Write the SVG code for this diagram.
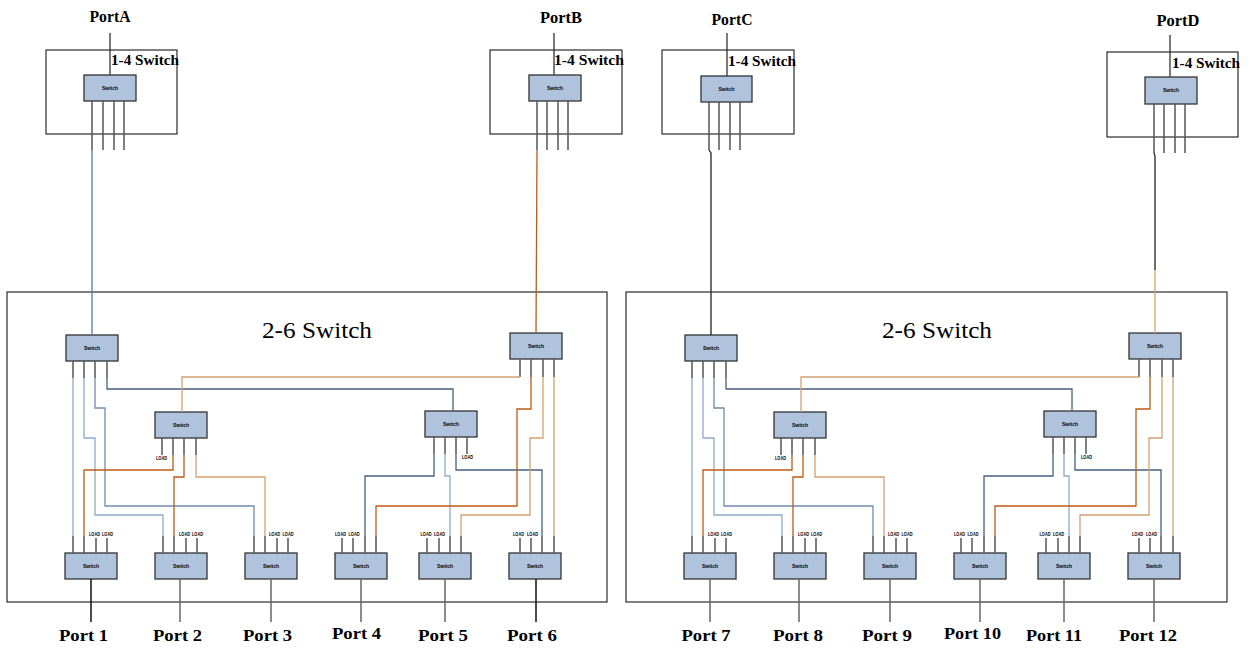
<svg xmlns="http://www.w3.org/2000/svg" width="1250" height="651" viewBox="0 0 1250 651">
<style>
.bg{fill:#fff}
.box{fill:none;stroke:#000;stroke-width:1}
.sw{fill:#b0c3dc;stroke:#333;stroke-width:1.3}
.st{font-family:"Liberation Sans",Arial,sans-serif;font-size:5px;font-weight:bold;text-anchor:middle;fill:#000}
.leg{stroke:#555;stroke-width:1.5;fill:none}
.ld{font-family:"Liberation Sans",Arial,sans-serif;font-size:5px;font-weight:bold;text-anchor:middle;fill:#000}
.stem{stroke:#666;stroke-width:1.5;fill:none}
.lbl{font-family:"Liberation Serif","Times New Roman",serif;font-weight:bold;font-size:17px;text-anchor:middle;fill:#000}
.sub{font-family:"Liberation Serif","Times New Roman",serif;font-weight:bold;font-size:14px;fill:#000}
.ttl{font-family:"Liberation Serif","Times New Roman",serif;font-size:23px;text-anchor:middle;fill:#000}
.c{fill:none;stroke-width:1.3}
.lb{stroke:#8eaacb}
.mb{stroke:#6f8db0}
.db{stroke:#44607f}
.lo{stroke:#d4a070}
.do{stroke:#c05a14}
.k{stroke:#222}
</style>
<rect class="bg" x="0" y="0" width="1250" height="651"/>

<!-- 1-4 switches -->
<g id="sw14-A">
<rect class="box" x="46" y="50" width="131" height="84"/>
<line x1="110" y1="33" x2="110" y2="75" stroke="#222" stroke-width="1.2"/>
<rect class="sw" x="84" y="75" width="52" height="26"/>
<text class="st" x="110" y="90" textLength="16" lengthAdjust="spacingAndGlyphs">Switch</text>
<path class="leg" d="M92,101V150M103,101V150M114,101V150M124,101V150"/>
<text class="sub" x="111" y="65" textLength="68" lengthAdjust="spacingAndGlyphs">1-4 Switch</text>
<text class="lbl" x="110" y="22" textLength="41" lengthAdjust="spacingAndGlyphs">PortA</text>
</g>
<g id="sw14-B">
<rect class="box" x="490" y="50" width="132" height="84"/>
<line x1="554" y1="33" x2="554" y2="75" stroke="#222" stroke-width="1.2"/>
<rect class="sw" x="529" y="75" width="52" height="26"/>
<text class="st" x="555" y="90" textLength="16" lengthAdjust="spacingAndGlyphs">Switch</text>
<path class="leg" d="M537,101V150M547,101V150M558,101V150M568,101V150"/>
<text class="sub" x="554" y="65" textLength="70" lengthAdjust="spacingAndGlyphs">1-4 Switch</text>
<text class="lbl" x="561" y="23" textLength="42" lengthAdjust="spacingAndGlyphs">PortB</text>
</g>
<g id="sw14-C">
<rect class="box" x="662" y="50" width="132" height="84"/>
<line x1="727" y1="33" x2="727" y2="76" stroke="#222" stroke-width="1.2"/>
<rect class="sw" x="701" y="76" width="51" height="26"/>
<text class="st" x="726.5" y="91" textLength="16" lengthAdjust="spacingAndGlyphs">Switch</text>
<path class="leg" d="M709,102V150M719,102V150M730,102V150M740,102V150"/>
<text class="sub" x="728" y="65.5" textLength="68" lengthAdjust="spacingAndGlyphs">1-4 Switch</text>
<text class="lbl" x="732" y="24.5" textLength="41" lengthAdjust="spacingAndGlyphs">PortC</text>
</g>
<g id="sw14-D">
<rect class="box" x="1107" y="52" width="131" height="85"/>
<line x1="1170" y1="35" x2="1170" y2="77" stroke="#222" stroke-width="1.2"/>
<rect class="sw" x="1145" y="77" width="52" height="27"/>
<text class="st" x="1171" y="92" textLength="16" lengthAdjust="spacingAndGlyphs">Switch</text>
<path class="leg" d="M1154,104V153M1164,104V153M1175,104V153M1185,104V153"/>
<text class="sub" x="1172" y="68" textLength="68" lengthAdjust="spacingAndGlyphs">1-4 Switch</text>
<text class="lbl" x="1178" y="26" textLength="43" lengthAdjust="spacingAndGlyphs">PortD</text>
</g>

<!-- Left 2-6 switch -->
<g id="sw26-left">
<rect class="box" x="7" y="292" width="600" height="310"/>
<text class="ttl" x="317" y="338" textLength="110" lengthAdjust="spacingAndGlyphs">2-6 Switch</text>
</g>
<g id="L-top1"><rect class="sw" x="66" y="335" width="52" height="26"/><text class="st" x="92" y="350" textLength="16" lengthAdjust="spacingAndGlyphs">Switch</text><path class="leg" d="M73,361V378M84,361V378M95,361V378M107,361V378"/></g>
<g id="L-top2"><rect class="sw" x="510" y="333" width="52" height="26"/><text class="st" x="536" y="348" textLength="16" lengthAdjust="spacingAndGlyphs">Switch</text><path class="leg" d="M520,359V377M531,359V377M543,359V377M554,359V377"/></g>
<g id="L-mid1"><rect class="sw" x="155" y="412" width="52" height="26"/><text class="st" x="181" y="427" textLength="16" lengthAdjust="spacingAndGlyphs">Switch</text><path class="leg" d="M162,438V455M173,438V455M184,438V455M196,438V455"/><text class="ld" x="161.5" y="460" textLength="11" lengthAdjust="spacingAndGlyphs">LOAD</text></g>
<g id="L-mid2"><rect class="sw" x="425" y="411" width="52" height="26"/><text class="st" x="451" y="426" textLength="16" lengthAdjust="spacingAndGlyphs">Switch</text><path class="leg" d="M434,437V454M445,437V454M456,437V454M467,437V454"/><text class="ld" x="467.5" y="459" textLength="11" lengthAdjust="spacingAndGlyphs">LOAD</text></g>
<g id="L-port1"><rect class="sw" x="65" y="553" width="52" height="26"/><text class="st" x="91" y="568" textLength="16" lengthAdjust="spacingAndGlyphs">Switch</text><path class="leg" d="M73,536V553M84,536V553M96,538V553M107,538V553"/><text class="ld" x="94.5" y="536" textLength="11" lengthAdjust="spacingAndGlyphs">LOAD</text><text class="ld" x="107.5" y="536" textLength="11" lengthAdjust="spacingAndGlyphs">LOAD</text><path class="stem" d="M91,579V622" style="stroke:#111"/><text class="lbl" x="83.5" y="641" textLength="49" lengthAdjust="spacingAndGlyphs">Port 1</text></g>
<g id="L-port2"><rect class="sw" x="155" y="553" width="52" height="26"/><text class="st" x="181" y="568" textLength="16" lengthAdjust="spacingAndGlyphs">Switch</text><path class="leg" d="M163,536V553M174,536V553M186,538V553M197,538V553"/><text class="ld" x="184.5" y="536" textLength="11" lengthAdjust="spacingAndGlyphs">LOAD</text><text class="ld" x="197.5" y="536" textLength="11" lengthAdjust="spacingAndGlyphs">LOAD</text><path class="stem" d="M180,579V622"/><text class="lbl" x="177.5" y="641" textLength="49" lengthAdjust="spacingAndGlyphs">Port 2</text></g>
<g id="L-port3"><rect class="sw" x="245" y="553" width="52" height="26"/><text class="st" x="271" y="568" textLength="16" lengthAdjust="spacingAndGlyphs">Switch</text><path class="leg" d="M254,536V553M265,536V553M277,538V553M288,538V553"/><text class="ld" x="274.5" y="536" textLength="11" lengthAdjust="spacingAndGlyphs">LOAD</text><text class="ld" x="288" y="536" textLength="11" lengthAdjust="spacingAndGlyphs">LOAD</text><path class="stem" d="M271,579V622"/><text class="lbl" x="267.5" y="641" textLength="49" lengthAdjust="spacingAndGlyphs">Port 3</text></g>
<g id="L-port4"><rect class="sw" x="335" y="553" width="52" height="26"/><text class="st" x="361" y="568" textLength="16" lengthAdjust="spacingAndGlyphs">Switch</text><path class="leg" d="M342,538V553M353,538V553M365,536V553M376,536V553"/><text class="ld" x="340.5" y="536" textLength="11" lengthAdjust="spacingAndGlyphs">LOAD</text><text class="ld" x="354" y="536" textLength="11" lengthAdjust="spacingAndGlyphs">LOAD</text><path class="stem" d="M361,579V622"/><text class="lbl" x="356.5" y="639" textLength="49" lengthAdjust="spacingAndGlyphs">Port 4</text></g>
<g id="L-port5"><rect class="sw" x="419" y="553" width="52" height="26"/><text class="st" x="445" y="568" textLength="16" lengthAdjust="spacingAndGlyphs">Switch</text><path class="leg" d="M427,538V553M439,538V553M450,536V553M461,536V553"/><text class="ld" x="426" y="536" textLength="11" lengthAdjust="spacingAndGlyphs">LOAD</text><text class="ld" x="439.5" y="536" textLength="11" lengthAdjust="spacingAndGlyphs">LOAD</text><path class="stem" d="M445,579V622"/><text class="lbl" x="443" y="641" textLength="50" lengthAdjust="spacingAndGlyphs">Port 5</text></g>
<g id="L-port6"><rect class="sw" x="509" y="553" width="52" height="26"/><text class="st" x="535" y="568" textLength="16" lengthAdjust="spacingAndGlyphs">Switch</text><path class="leg" d="M520,538V553M531,538V553M542,536V553M554,536V553"/><text class="ld" x="518.5" y="536" textLength="11" lengthAdjust="spacingAndGlyphs">LOAD</text><text class="ld" x="532.5" y="536" textLength="11" lengthAdjust="spacingAndGlyphs">LOAD</text><path class="stem" style="stroke:#111" d="M536,579V622"/><text class="lbl" x="532" y="641" textLength="50" lengthAdjust="spacingAndGlyphs">Port 6</text></g>

<!-- Right 2-6 switch (same layout shifted) -->
<g id="sw26-right-layer" transform="translate(619,0)">
<g id="sw26-right">
<rect class="box" x="7" y="292" width="601" height="310"/>
<text class="ttl" x="318" y="338" textLength="110" lengthAdjust="spacingAndGlyphs">2-6 Switch</text>
</g>
<g id="R-top1"><rect class="sw" x="66" y="335" width="52" height="26"/><text class="st" x="92" y="350" textLength="16" lengthAdjust="spacingAndGlyphs">Switch</text><path class="leg" d="M73,361V378M84,361V378M95,361V378M107,361V378"/></g>
<g id="R-top2"><rect class="sw" x="510" y="333" width="52" height="26"/><text class="st" x="536" y="348" textLength="16" lengthAdjust="spacingAndGlyphs">Switch</text><path class="leg" d="M520,359V377M531,359V377M543,359V377M554,359V377"/></g>
<g id="R-mid1"><rect class="sw" x="155" y="412" width="52" height="26"/><text class="st" x="181" y="427" textLength="16" lengthAdjust="spacingAndGlyphs">Switch</text><path class="leg" d="M162,438V455M173,438V455M184,438V455M196,438V455"/><text class="ld" x="161.5" y="460" textLength="11" lengthAdjust="spacingAndGlyphs">LOAD</text></g>
<g id="R-mid2"><rect class="sw" x="425" y="411" width="52" height="26"/><text class="st" x="451" y="426" textLength="16" lengthAdjust="spacingAndGlyphs">Switch</text><path class="leg" d="M434,437V454M445,437V454M456,437V454M467,437V454"/><text class="ld" x="467.5" y="459" textLength="11" lengthAdjust="spacingAndGlyphs">LOAD</text></g>
<g id="R-port7"><rect class="sw" x="65" y="553" width="52" height="26"/><text class="st" x="91" y="568" textLength="16" lengthAdjust="spacingAndGlyphs">Switch</text><path class="leg" d="M73,536V553M84,536V553M96,538V553M107,538V553"/><text class="ld" x="94.5" y="536" textLength="11" lengthAdjust="spacingAndGlyphs">LOAD</text><text class="ld" x="107.5" y="536" textLength="11" lengthAdjust="spacingAndGlyphs">LOAD</text><path class="stem" d="M91,579V622"/><text class="lbl" x="87" y="641" textLength="49" lengthAdjust="spacingAndGlyphs">Port 7</text></g>
<g id="R-port8"><rect class="sw" x="155" y="553" width="52" height="26"/><text class="st" x="181" y="568" textLength="16" lengthAdjust="spacingAndGlyphs">Switch</text><path class="leg" d="M163,536V553M174,536V553M186,538V553M197,538V553"/><text class="ld" x="184.5" y="536" textLength="11" lengthAdjust="spacingAndGlyphs">LOAD</text><text class="ld" x="197.5" y="536" textLength="11" lengthAdjust="spacingAndGlyphs">LOAD</text><path class="stem" d="M180,579V622"/><text class="lbl" x="179" y="641" textLength="50" lengthAdjust="spacingAndGlyphs">Port 8</text></g>
<g id="R-port9"><rect class="sw" x="245" y="553" width="52" height="26"/><text class="st" x="271" y="568" textLength="16" lengthAdjust="spacingAndGlyphs">Switch</text><path class="leg" d="M254,536V553M265,536V553M277,538V553M288,538V553"/><text class="ld" x="274.5" y="536" textLength="11" lengthAdjust="spacingAndGlyphs">LOAD</text><text class="ld" x="288" y="536" textLength="11" lengthAdjust="spacingAndGlyphs">LOAD</text><path class="stem" d="M271,579V622"/><text class="lbl" x="268" y="641" textLength="50" lengthAdjust="spacingAndGlyphs">Port 9</text></g>
<g id="R-port10"><rect class="sw" x="335" y="553" width="52" height="26"/><text class="st" x="361" y="568" textLength="16" lengthAdjust="spacingAndGlyphs">Switch</text><path class="leg" d="M342,538V553M353,538V553M365,536V553M376,536V553"/><text class="ld" x="340.5" y="536" textLength="11" lengthAdjust="spacingAndGlyphs">LOAD</text><text class="ld" x="354" y="536" textLength="11" lengthAdjust="spacingAndGlyphs">LOAD</text><path class="stem" d="M361,579V622"/><text class="lbl" x="353.5" y="639" textLength="57" lengthAdjust="spacingAndGlyphs">Port 10</text></g>
<g id="R-port11"><rect class="sw" x="419" y="553" width="52" height="26"/><text class="st" x="445" y="568" textLength="16" lengthAdjust="spacingAndGlyphs">Switch</text><path class="leg" d="M427,538V553M439,538V553M450,536V553M461,536V553"/><text class="ld" x="426" y="536" textLength="11" lengthAdjust="spacingAndGlyphs">LOAD</text><text class="ld" x="439.5" y="536" textLength="11" lengthAdjust="spacingAndGlyphs">LOAD</text><path class="stem" d="M445,579V622"/><text class="lbl" x="435" y="641" textLength="56" lengthAdjust="spacingAndGlyphs">Port 11</text></g>
<g id="R-port12"><rect class="sw" x="509" y="553" width="52" height="26"/><text class="st" x="535" y="568" textLength="16" lengthAdjust="spacingAndGlyphs">Switch</text><path class="leg" d="M520,538V553M531,538V553M542,536V553M554,536V553"/><text class="ld" x="518.5" y="536" textLength="11" lengthAdjust="spacingAndGlyphs">LOAD</text><text class="ld" x="532.5" y="536" textLength="11" lengthAdjust="spacingAndGlyphs">LOAD</text><path class="stem" d="M535,579V622"/><text class="lbl" x="529" y="641" textLength="58" lengthAdjust="spacingAndGlyphs">Port 12</text></g>
</g>

<!-- Connectors -->
<g id="connectors">
<g id="conn-feeds">
<path class="c" stroke="#5a7899" d="M92,150V335"/>
<path class="c do" d="M537,150L536,333"/>
<path class="c k" d="M709,150L711,153V335"/>
<path class="c k" d="M1154,153L1155,156V270"/>
<path class="c lo" d="M1155,270V333"/>
</g>
<g id="conn-left">
<path class="c lb" d="M73,378V536"/>
<path class="c lb" d="M84,378V438H95V515H163V536"/>
<path class="c mb" d="M95,378V408H105V506H254V536"/>
<path class="c db" d="M107,378V389H453V411"/>
<path class="c db" d="M434,454V476H365V536"/>
<path class="c lb" d="M445,454V476H450V536"/>
<path class="c db" d="M456,454V470H542V536"/>
<path class="c lo" d="M520,377H182V412"/>
<path class="c do" d="M531,377V409H517V506H376V536"/>
<path class="c lo" d="M543,377V438H530V515H461V536"/>
<path class="c lo" d="M554,377V536"/>
<path class="c do" d="M173,455V470H84V536"/>
<path class="c do" d="M184,455V477H174V536"/>
<path class="c lo" d="M196,455V477H265V536"/>
</g>
<g id="conn-right" transform="translate(619,0)">
<path class="c lb" d="M73,378V536"/>
<path class="c lb" d="M84,378V438H95V515H163V536"/>
<path class="c mb" d="M95,378V408H105V506H254V536"/>
<path class="c db" d="M107,378V389H453V411"/>
<path class="c db" d="M434,454V476H365V536"/>
<path class="c lb" d="M445,454V476H450V536"/>
<path class="c db" d="M456,454V470H542V536"/>
<path class="c lo" d="M520,377H182V412"/>
<path class="c do" d="M531,377V409H517V506H376V536"/>
<path class="c lo" d="M543,377V438H530V515H461V536"/>
<path class="c lo" d="M554,377V536"/>
<path class="c do" d="M173,455V470H84V536"/>
<path class="c do" d="M184,455V477H174V536"/>
<path class="c lo" d="M196,455V477H265V536"/>
</g>
</g>
</svg>
